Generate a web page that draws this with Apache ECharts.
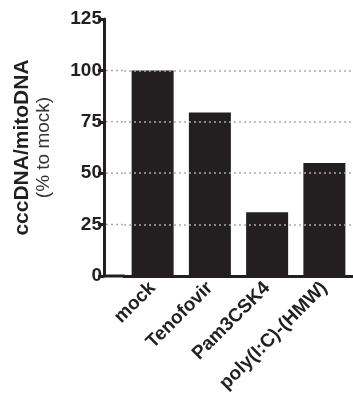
<!DOCTYPE html>
<html>
<head>
<meta charset="utf-8">
<script src="https://cdn.jsdelivr.net/npm/echarts@6/dist/echarts.min.js"></script>
<style>
  html, body { margin: 0; padding: 0; background: #fff; }
  #chart { width: 353px; height: 405px; }
</style>
</head>
<body>
<div id="chart"></div>
<script>
var categories = ['mock', 'Tenofovir', 'Pam3CSK4', 'poly(I:C)-(HMW)'];
var values = [100, 79.5, 31, 55];
var yTicks = [0, 25, 50, 75, 100, 125];
var gridValues = [25, 50, 75, 100];

var FONT = '"Liberation Sans", Arial, Helvetica, sans-serif';
var INK = '#231f20';
var AXIS_X = 104; // where the y axis line sits

var myChart = echarts.init(document.getElementById('chart'));

var option = {
    animation: false,
    backgroundColor: '#fff',
    grid: { left: 124, top: 19, width: 232, height: 257 },
    xAxis: {
        type: 'category',
        data: categories,
        axisLine: { lineStyle: { color: INK, width: 3 } },
        axisTick: { alignWithLabel: true, length: 7, lineStyle: { color: INK, width: 3 } },
        axisLabel: {
            rotate: 45, margin: 9, color: INK,
            fontFamily: FONT, fontWeight: 'bold', fontSize: 19
        }
    },
    yAxis: {
        type: 'value',
        min: yTicks[0],
        max: yTicks[yTicks.length - 1],
        interval: 25,
        offset: 20,
        axisLine: { show: true, lineStyle: { color: INK, width: 3 } },
        axisTick: { show: true, length: 6, lineStyle: { color: INK, width: 3 } },
        axisLabel: { margin: 2, color: INK, fontFamily: FONT, fontWeight: 'bold', fontSize: 19 },
        splitLine: { show: false },
        name: '{a|cccDNA/mitoDNA}\n{b|(% to mock)}',
        nameLocation: 'middle',
        nameGap: 49,
        nameTextStyle: {
            align: 'center',
            rich: {
                a: { fontFamily: FONT, fontWeight: 'bold', fontSize: 21, color: INK, lineHeight: 22 },
                b: { fontFamily: FONT, fontSize: 19, color: '#333', lineHeight: 22 }
            }
        }
    },
    series: [
        {
            type: 'line',
            data: [],
            z: 1,
            silent: true,
            markLine: {
                silent: true,
                symbol: ['none', 'none'],
                label: { show: false },
                lineStyle: { type: [2, 3], color: '#aaa', width: 1.5 },
                data: gridValues.map(function (v) { return { yAxis: v }; })
            }
        },
        {
            type: 'bar',
            data: values,
            z: 2,
            barWidth: 42,
            itemStyle: { color: INK }
        }
    ]
};
myChart.setOption(option);

// y axis sits left of the first band: extend baseline and grid lines to it
var gx = myChart.convertToPixel({ xAxisIndex: 0 }, 0) - 29;
var y0 = myChart.convertToPixel({ yAxisIndex: 0 }, 0);
var lines = [{
    type: 'line', z: 10,
    shape: { x1: AXIS_X, y1: y0, x2: gx + 1, y2: y0 },
    style: { stroke: INK, lineWidth: 3 }
}];
gridValues.forEach(function (v) {
    var y = myChart.convertToPixel({ yAxisIndex: 0 }, v);
    lines.push({
        type: 'line', z: 0,
        shape: { x1: AXIS_X + 2, y1: y, x2: gx, y2: y },
        style: { stroke: '#aaa', lineWidth: 1.5, lineDash: [2, 3] }
    });
});
myChart.setOption({ graphic: lines });

window.addEventListener('resize', function () {
    myChart.resize();
});
</script>
</body>
</html>
